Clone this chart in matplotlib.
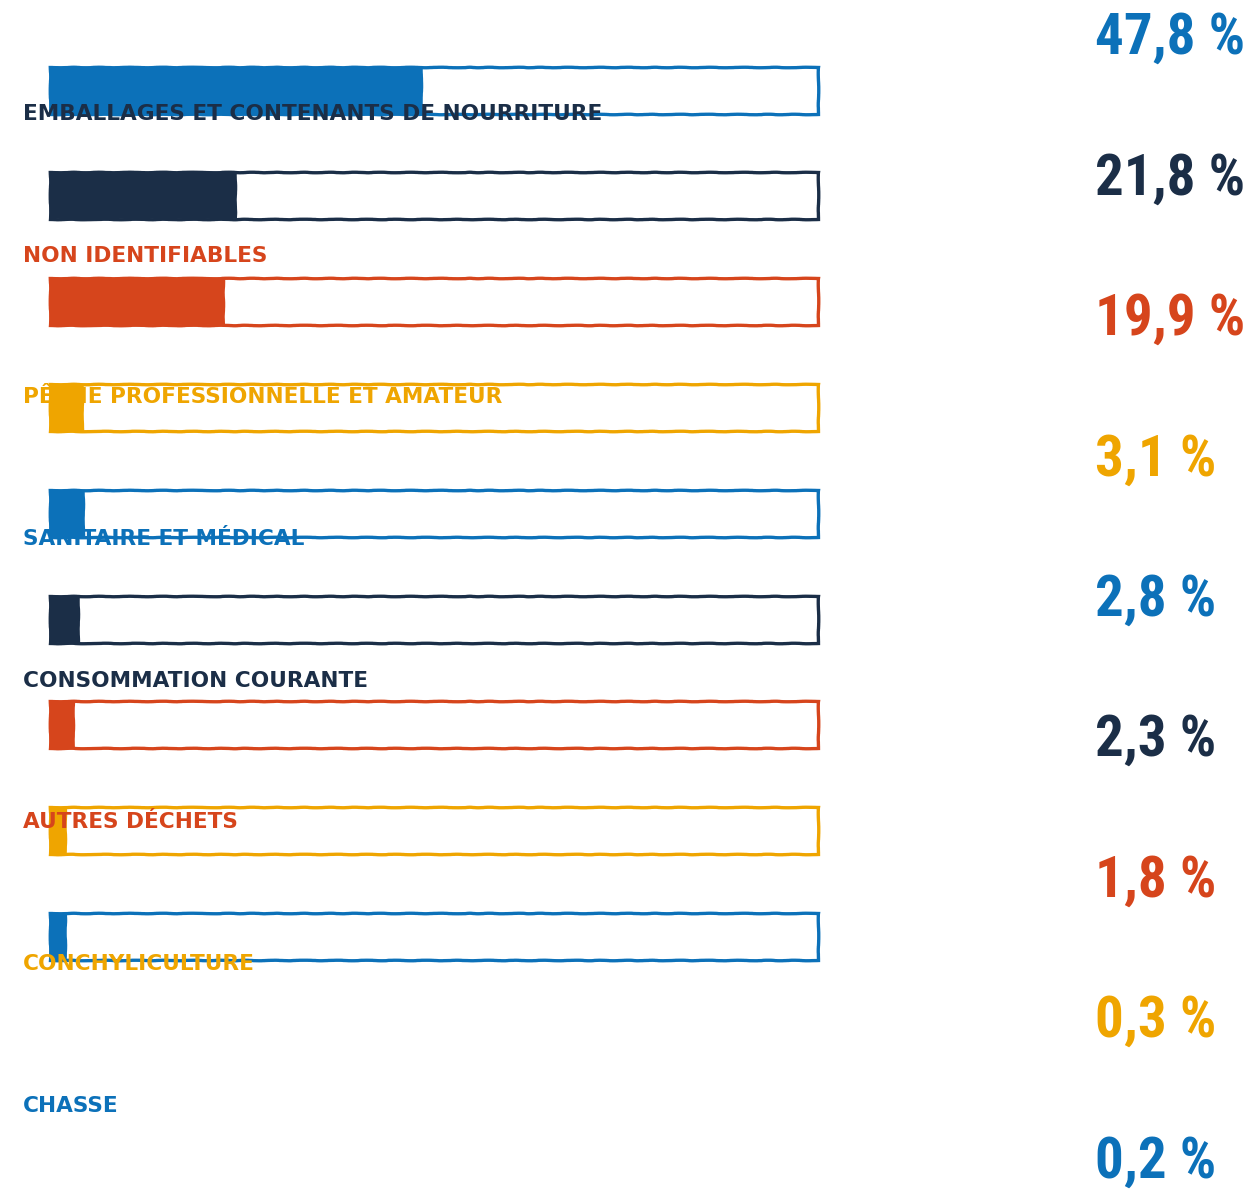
import matplotlib
matplotlib.use("Agg")
import matplotlib.pyplot as plt
from matplotlib import font_manager

# data
labels = ["EMBALLAGES ET CONTENANTS DE NOURRITURE", "NON IDENTIFIABLES",
          "PÊCHE PROFESSIONNELLE ET AMATEUR", "SANITAIRE ET MÉDICAL",
          "CONSOMMATION COURANTE", "AUTRES DÉCHETS", "CONCHYLICULTURE", "CHASSE"]
values = [47.8, 21.8, 19.9, 3.1, 2.8, 2.3, 1.8, 0.3, 0.2]
value_texts = ["47,8 %", "21,8 %", "19,9 %", "3,1 %", "2,8 %", "2,3 %", "1,8 %", "0,3 %", "0,2 %"]
# filled part of each track, % of the track length (as drawn)
bar_fill = [48.6, 24.3, 22.8, 4.4, 4.6, 3.9, 3.3, 2.2, 2.2]

BLUE = "#0c71b9"
NAVY = "#1b2e47"
RED = "#d6451c"
YELLOW = "#efa500"
cycle = [BLUE, NAVY, RED, YELLOW]
bar_colors = [cycle[i % 4] for i in range(len(values))]
label_colors = [cycle[(i + 1) % 4] for i in range(len(labels))]

# pick a narrow font for the big numbers
names = {f.name for f in font_manager.fontManager.ttflist}
if "Roboto Condensed" in names:
    num_font, num_stretch = "Roboto Condensed", "normal"
elif "Liberation Sans Narrow" in names:
    num_font, num_stretch = "Liberation Sans Narrow", "normal"
else:
    num_font, num_stretch = "DejaVu Sans", "condensed"

W, H = 1250, 1189
fig = plt.figure(figsize=(W / 100, H / 100), dpi=100)
ax = fig.add_axes([0, 0, 1, 1])

# layout in pixels
x0, x1 = 50, 818           # track left/right
row0, row_step = 90, 105.8  # bar centres
bar_h = 47
px = (x1 - x0) / 100.0
ax.set_xlim(-x0 / px, (W - x0) / px)
ax.set_ylim((H - row0) / row_step, -row0 / row_step)
ax.axis("off")

ypos = list(range(len(values)))
h = bar_h / row_step
for y, f, c in zip(ypos, bar_fill, bar_colors):
    track = ax.barh(y, 100, height=h, left=0, facecolor="white",
                    edgecolor=c, linewidth=2.4, zorder=1)
    fill = ax.barh(y, f, height=h, left=0, color=c, linewidth=0, zorder=2)
    for p in list(track) + list(fill):
        p.set_sketch_params(scale=0.25, length=40, randomness=4)

# category labels (left, drifting below the bars)
for i, (lab, c) in enumerate(zip(labels, label_colors)):
    yb = 120 + i * 141.7
    fig.text(23 / W, 1 - yb / H, lab, color=c, fontsize=15.6,
             fontweight="bold", family="DejaVu Sans", va="baseline",
             ha="left", zorder=5)

# percentages on the right
for i, (t, c) in enumerate(zip(value_texts, bar_colors)):
    yb = 54 + i * 140.4
    fig.text(1095 / W, 1 - yb / H, t, color=c, fontsize=41,
             fontweight="bold", family=num_font, fontstretch=num_stretch,
             va="baseline", ha="left")

fig.savefig("out.png", dpi=100, facecolor="white")
